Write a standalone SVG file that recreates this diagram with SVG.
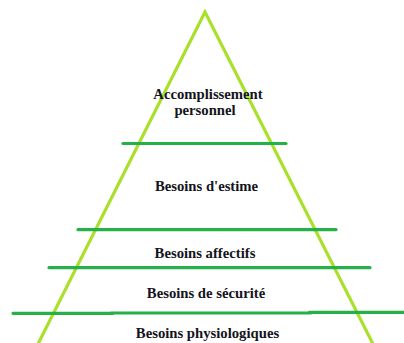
<svg xmlns="http://www.w3.org/2000/svg" width="404" height="343" viewBox="0 0 404 343">
<style>
.tri{fill:none;stroke:#a8e02a;stroke-width:3.2;stroke-linecap:butt}
.lvl{fill:none;stroke:#25b04a;stroke-width:3.2;stroke-linecap:round}
.lbl{font-family:"Liberation Serif","Times New Roman",serif;font-weight:bold;font-size:14.7px;fill:#141420;text-anchor:middle}
</style>
<rect width="404" height="343" fill="#fff"/>
<g id="connectors">
<path class="tri" d="M38,344 L205,12 L373,344"/>
<line class="lvl" x1="123" y1="143.5" x2="286" y2="143.5"/>
<line class="lvl" x1="78" y1="229.7" x2="336" y2="229.7"/>
<line class="lvl" x1="49" y1="267.7" x2="370" y2="267.7"/>
<path class="lvl" d="M13,313.3 L112,313.3 L112,313 L310,313 L310,312.3 L404,312.3"/>
</g>
<g id="accomplissement"><text class="lbl" x="208" y="99">Accomplissement</text><text class="lbl" x="205" y="115">personnel</text></g>
<g id="estime"><text class="lbl" x="206.5" y="191">Besoins d'estime</text></g>
<g id="affectifs"><text class="lbl" x="205" y="258">Besoins affectifs</text></g>
<g id="securite"><text class="lbl" x="206" y="298">Besoins de sécurité</text></g>
<g id="physiologiques"><text class="lbl" x="207.5" y="338">Besoins physiologiques</text></g>
</svg>
